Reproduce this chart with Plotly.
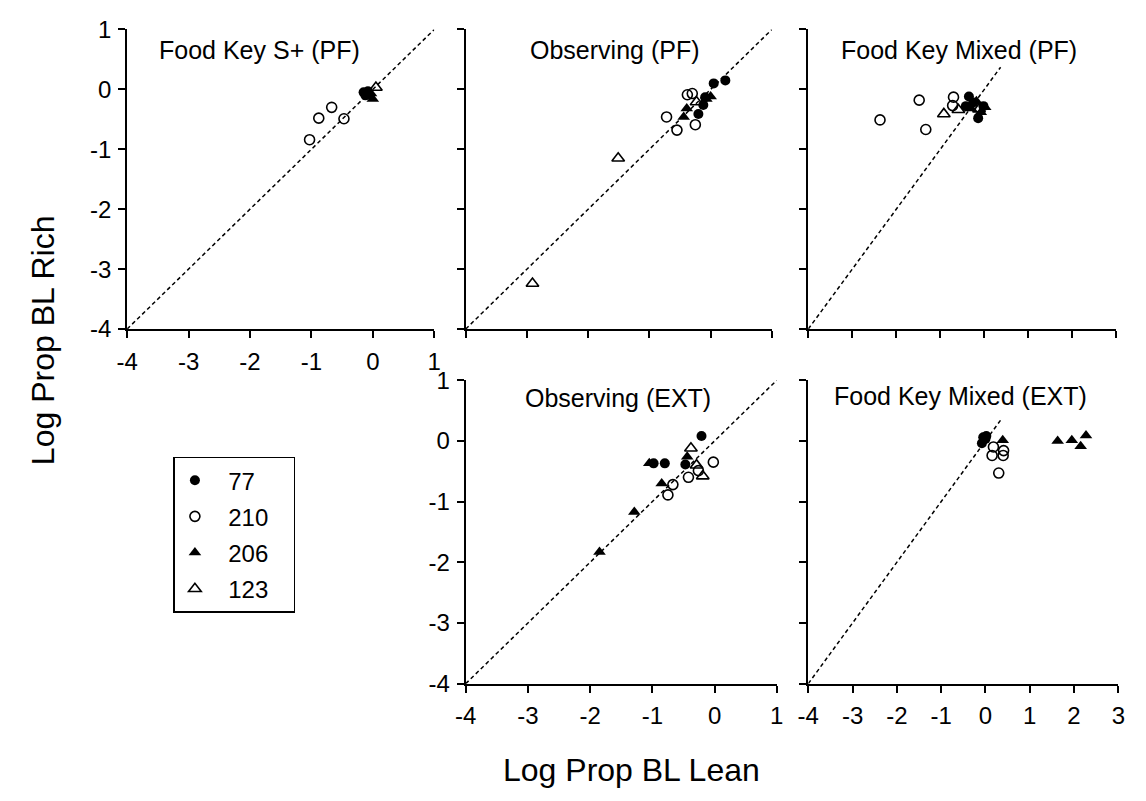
import plotly.graph_objects as go

W, H = 1146, 801
FONT = "Liberation Sans, Arial, Helvetica, sans-serif"

# ---------------- data ----------------
panel_titles = ["Food Key S+ (PF)", "Observing (PF)", "Food Key Mixed (PF)",
                "Observing (EXT)", "Food Key Mixed (EXT)"]
series_names = ["77", "210", "206", "123"]

x_tickvals_short = [-4, -3, -2, -1, 0, 1]
x_ticktext_short = ["-4", "-3", "-2", "-1", "0", "1"]
x_tickvals_long = [-4, -3, -2, -1, 0, 1, 2, 3]
x_ticktext_long = ["-4", "-3", "-2", "-1", "0", "1", "2", "3"]
y_tickvals = [-4, -3, -2, -1, 0, 1]
y_ticktext = ["-4", "-3", "-2", "-1", "0", "1"]

# Food Key S+ (PF)
p1_77_x = [-0.15, -0.10, -0.08, -0.12]
p1_77_y = [-0.05, -0.08, -0.03, -0.10]
p1_210_x = [-1.03, -0.88, -0.67, -0.47]
p1_210_y = [-0.84, -0.48, -0.30, -0.49]
p1_206_x = [-0.05, 0.00, -0.03]
p1_206_y = [-0.12, -0.16, -0.07]
p1_123_x = [0.05]
p1_123_y = [0.03]

# Observing (PF)
p2_77_x = [0.24, 0.05, -0.12, -0.20, -0.09]
p2_77_y = [0.15, 0.10, -0.26, -0.41, -0.13]
p2_210_x = [-0.72, -0.55, -0.25, -0.38, -0.30]
p2_210_y = [-0.46, -0.68, -0.59, -0.09, -0.07]
p2_206_x = [-0.44, -0.39, 0.00, -0.07]
p2_206_y = [-0.46, -0.32, -0.12, -0.16]
p2_123_x = [-1.51, -2.91, -0.23]
p2_123_y = [-1.15, -3.24, -0.21]

# Food Key Mixed (PF)
p3_77_x = [-0.35, -0.42, -0.14, -0.02, -0.25]
p3_77_y = [-0.12, -0.28, -0.48, -0.28, -0.22]
p3_210_x = [-2.37, -1.48, -1.33, -0.70, -0.72]
p3_210_y = [-0.51, -0.18, -0.67, -0.13, -0.27]
p3_206_x = [-0.30, -0.08, -0.18, 0.02]
p3_206_y = [-0.32, -0.38, -0.20, -0.30]
p3_123_x = [-0.92, -0.59, -0.12]
p3_123_y = [-0.41, -0.34, -0.33]

# Observing (EXT)
p4_77_x = [-0.21, -0.98, -0.80, -0.47]
p4_77_y = [0.08, -0.37, -0.37, -0.39]
p4_210_x = [-0.02, -0.26, -0.42, -0.67, -0.75]
p4_210_y = [-0.35, -0.49, -0.60, -0.72, -0.89]
p4_206_x = [-1.05, -0.44, -0.85, -1.29, -1.85]
p4_206_y = [-0.37, -0.26, -0.70, -1.17, -1.83]
p4_123_x = [-0.38, -0.29, -0.19]
p4_123_y = [-0.12, -0.40, -0.58]

# Food Key Mixed (EXT)
p5_77_x = [-0.05, 0.00, -0.08, 0.02]
p5_77_y = [0.06, 0.03, -0.04, 0.08]
p5_210_x = [0.18, 0.15, 0.41, 0.40, 0.30]
p5_210_y = [-0.10, -0.24, -0.16, -0.24, -0.53]
p5_206_x = [0.39, 1.63, 1.95, 2.15, 2.27]
p5_206_y = [0.01, 0.00, 0.01, -0.09, 0.09]
p5_123_x = []
p5_123_y = []

# identity (diagonal) line extent per panel
diag_start = [-4, -4, -4, -4, -4]
diag_end = [1, 1, 0.37, 1, 0.37]

# x-axis ranges per panel
x_ranges = [[-4, 1], [-4, 1], [-4, 3], [-4, 1], [-4, 3]]
y_range = [-4, 1]

panels = [
    {"77": (p1_77_x, p1_77_y), "210": (p1_210_x, p1_210_y), "206": (p1_206_x, p1_206_y), "123": (p1_123_x, p1_123_y)},
    {"77": (p2_77_x, p2_77_y), "210": (p2_210_x, p2_210_y), "206": (p2_206_x, p2_206_y), "123": (p2_123_x, p2_123_y)},
    {"77": (p3_77_x, p3_77_y), "210": (p3_210_x, p3_210_y), "206": (p3_206_x, p3_206_y), "123": (p3_123_x, p3_123_y)},
    {"77": (p4_77_x, p4_77_y), "210": (p4_210_x, p4_210_y), "206": (p4_206_x, p4_206_y), "123": (p4_123_x, p4_123_y)},
    {"77": (p5_77_x, p5_77_y), "210": (p5_210_x, p5_210_y), "206": (p5_206_x, p5_206_y), "123": (p5_123_x, p5_123_y)},
]

# ---------------- styles / layout ----------------
marker_styles = {
    "77": dict(symbol="circle", size=10, color="black", line=dict(width=0)),
    "210": dict(symbol="circle-open", size=10, color="black", line=dict(width=1.6, color="black")),
    "206": dict(symbol="triangle-up", size=11, color="black", line=dict(width=0)),
    "123": dict(symbol="triangle-up-open", size=11, color="black", line=dict(width=1.6, color="black")),
}

# panel boxes in pixels: (left, right, top, bottom)
boxes = [(118, 430, 16, 326), (462, 773, 16, 326), (810, 1123, 16, 326),
         (462, 778, 379, 693), (810, 1125, 379, 693)]
show_xlabels = [True, False, False, True, True]
show_ylabels = [True, False, False, True, False]
title_pos = [(252, 37), (613, 37), (963, 37), (617, 397), (965, 395)]

fig = go.Figure()
layout = dict(
    width=W, height=H, margin=dict(l=0, r=0, t=0, b=0),
    paper_bgcolor="white", plot_bgcolor="white",
    font=dict(family=FONT, color="black", size=23),
    showlegend=True,
    legend=dict(x=165 / W, y=1 - 458 / H, xanchor="left", yanchor="top",
                bordercolor="black", borderwidth=1.5, bgcolor="white",
                font=dict(size=24, family=FONT, color="black"),
                traceorder="grouped", tracegroupgap=2, itemwidth=30),
    annotations=[], shapes=[],
)

for i in range(5):
    k = "" if i == 0 else str(i + 1)
    xa, ya = "x" + k, "y" + k
    l, r, t, b = boxes[i]
    common = dict(showgrid=False, zeroline=False, showline=True, linecolor="black",
                  linewidth=2, ticks="outside", ticklen=7, tickwidth=2, tickcolor="black",
                  tickmode="array", tickfont=dict(size=24, family=FONT, color="black"),
                  fixedrange=True)
    if x_ranges[i][1] == 3:
        xtv, xtt = x_tickvals_long, x_ticktext_long
    else:
        xtv, xtt = x_tickvals_short, x_ticktext_short
    layout["xaxis" + k] = dict(common, domain=[l / W, r / W], range=x_ranges[i],
                               tickvals=xtv, ticktext=xtt,
                               anchor=ya, showticklabels=show_xlabels[i], ticklabelstandoff=3)
    layout["yaxis" + k] = dict(common, domain=[1 - b / H, 1 - t / H], range=y_range,
                               tickvals=y_tickvals, ticktext=y_ticktext,
                               anchor=xa, showticklabels=show_ylabels[i], ticklabelstandoff=2)

    fig.add_trace(go.Scatter(x=[diag_start[i], diag_end[i]], y=[diag_start[i], diag_end[i]],
                             mode="lines", xaxis=xa, yaxis=ya, showlegend=False,
                             line=dict(color="black", width=1.5, dash="4px,3px"),
                             hoverinfo="skip", cliponaxis=False))
    for s in series_names:
        xs, ys = panels[i][s]
        fig.add_trace(go.Scatter(x=xs, y=ys, mode="markers", xaxis=xa, yaxis=ya,
                                 name="\u00a0\u00a0" + s + "\u00a0\u00a0\u00a0", legendgroup=s,
                                 showlegend=(i == 0), marker=marker_styles[s],
                                 cliponaxis=False))

    tx, ty = title_pos[i]
    layout["annotations"].append(dict(text=panel_titles[i], x=tx / W, y=1 - ty / H,
                                      xref="paper", yref="paper", showarrow=False,
                                      xanchor="center", yanchor="middle",
                                      font=dict(size=25, family=FONT, color="black")))

layout["annotations"].append(dict(text="Log Prop BL Rich", x=32 / W, y=1 - 337 / H,
                                  xref="paper", yref="paper", showarrow=False, textangle=-90,
                                  xanchor="center", yanchor="middle",
                                  font=dict(size=32, family=FONT, color="black")))
layout["annotations"].append(dict(text="Log Prop BL Lean", x=630 / W, y=1 - 782 / H,
                                  xref="paper", yref="paper", showarrow=False,
                                  xanchor="center", yanchor="middle",
                                  font=dict(size=32, family=FONT, color="black")))

fig.update_layout(**layout)
fig.write_html("out.html")
